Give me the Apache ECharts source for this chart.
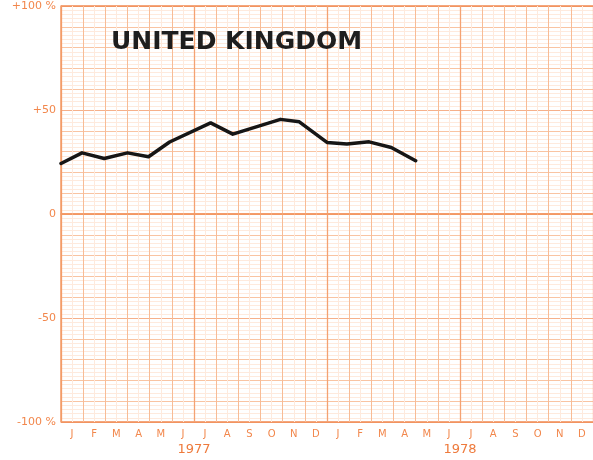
<!DOCTYPE html>
<html>
<head>
<meta charset="utf-8">
<script src="https://cdn.jsdelivr.net/npm/echarts@6/dist/echarts.min.js"></script>
<style>html,body{margin:0;padding:0;background:#fff;}#c{width:593px;height:460px;}</style>
</head>
<body>
<div id="c"></div>
<script>
// ---- data ----
var months = ['J','F','M','A','M','J','J','A','S','O','N','D','J','F','M','A','M','J','J','A','S','O','N','D'];
var years = ['1977','1978'];
var halfYears = ['H1','H2','H3','H4'];
// x position in months from start of Jan 1977
var pointMonths = [0, 0.95, 1.95, 3, 3.95, 4.9, 6.75, 7.75, 9.9, 10.75, 12, 12.9, 13.9, 14.9, 16];
var pointValues = [24.3, 29.4, 26.7, 29.4, 27.5, 34.6, 43.8, 38.4, 45.5, 44.3, 34.4, 33.6, 34.7, 32.0, 25.6];
var yTickValues = [100, 50, 0, -50, -100];
var yTickLabels = ['+100 %', '+50', '0', '-50', '-100 %'];
var titleText = 'UNITED KINGDOM';

var orange = '#f2874c';
var seriesData = pointMonths.map(function (m, i) { return [m, pointValues[i]]; });

var chart = echarts.init(document.getElementById('c'), null, {renderer: 'canvas'});
var gridBox = {left: 61, top: 6, width: 538, height: 416};
chart.setOption({
  animation: false,
  backgroundColor: '#ffffff',
  title: {
    text: titleText, left: 106, top: 25,
    textStyle: {fontFamily: 'DejaVu Sans', fontWeight: 'bold', fontSize: 25, color: '#1e1e1e'}
  },
  grid: gridBox,
  xAxis: [
    {
      type: 'category', data: months, boundaryGap: true, position: 'bottom',
      axisLine: {show: true, lineStyle: {color: '#f39a66', width: 1.5}},
      axisTick: {show: false},
      axisLabel: {color: orange, fontSize: 10, fontFamily: 'DejaVu Sans', margin: 7, interval: 0},
      splitLine: {show: true, interval: 0, lineStyle: {color: '#f8bc96', width: 1}}
    },
    {
      type: 'category', data: years, boundaryGap: true, position: 'bottom', offset: 17,
      axisLine: {show: false}, axisTick: {show: false},
      axisLabel: {color: '#ee7a3c', fontSize: 13, fontFamily: 'DejaVu Sans', margin: 4, interval: 0},
      splitLine: {show: false}
    },
    {
      type: 'category', data: halfYears, boundaryGap: true, position: 'top',
      axisLine: {show: false}, axisTick: {show: false}, axisLabel: {show: false},
      splitLine: {show: true, interval: 0, lineStyle: {color: '#f4a272', width: 1.3}}
    },
    {
      type: 'value', min: 0, max: 24, interval: 1, position: 'top',
      axisLine: {show: false}, axisTick: {show: false}, axisLabel: {show: false},
      splitLine: {show: false},
      minorTick: {show: false, splitNumber: 2},
      minorSplitLine: {show: true, lineStyle: {color: '#feeadd', width: 1}}
    }
  ],
  yAxis: [
    {
      type: 'value', min: -100, max: 100, interval: 10,
      axisLine: {show: true, lineStyle: {color: '#f39a66', width: 1.5}},
      axisTick: {show: false},
      axisLabel: {
        color: orange, fontSize: 11, fontFamily: 'DejaVu Sans', margin: 5,
        showMinLabel: true, showMaxLabel: true, padding: [0, 0, 6, 0],
        formatter: function (v) {
          var i = yTickValues.indexOf(v);
          return i >= 0 ? yTickLabels[i] : '';
        }
      },
      splitLine: {show: true, lineStyle: {color: '#f9c4a2', width: 1}},
      minorTick: {show: false, splitNumber: 5},
      minorSplitLine: {show: true, lineStyle: {color: '#feeadd', width: 1}}
    },
    {
      type: 'value', min: -100, max: 100, interval: 50, position: 'left',
      axisLine: {show: false}, axisTick: {show: false}, axisLabel: {show: false},
      splitLine: {show: true, lineStyle: {color: '#f6b08a', width: 1}}
    },
    {
      type: 'value', min: -100, max: 100, interval: 100, position: 'left',
      axisLine: {show: false}, axisTick: {show: false}, axisLabel: {show: false},
      splitLine: {show: true, lineStyle: {color: '#f08a52', width: 1.5}}
    }
  ],
  series: [{
    type: 'line', xAxisIndex: 3, yAxisIndex: 0,
    data: seriesData, symbol: 'none',
    lineStyle: {color: '#161616', width: 3.5, join: 'round', cap: 'round'},
    z: 10
  }]
});
</script>
</body>
</html>
